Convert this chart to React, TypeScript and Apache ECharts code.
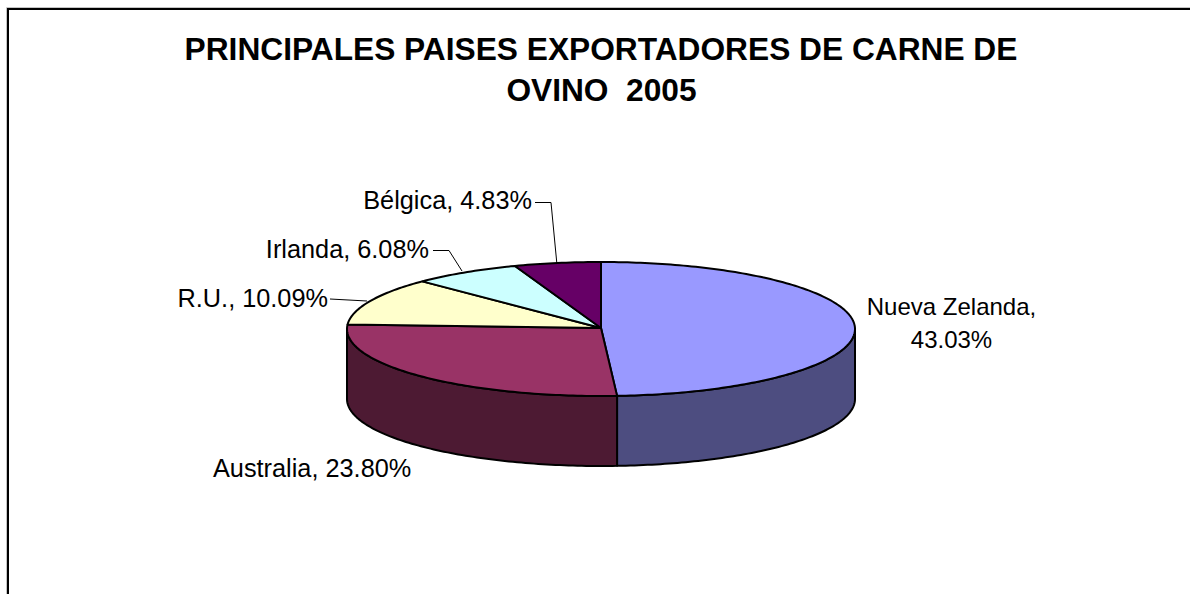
import React, { useEffect, useRef } from "react";
import * as echarts from "echarts";

const categories = ["Nueva Zelanda", "Australia", "R.U.", "Irlanda", "Bélgica"];
const shares = [43.03, 23.8, 10.09, 6.08, 4.83];
const topColors = ["#9999FF", "#993366", "#FFFFCC", "#CCFFFF", "#660066"];
const sideColors = ["#4D4D80", "#4D1A33", "#80806A", "#6A8080", "#330033"];
const titleLines = ["PRINCIPALES PAISES EXPORTADORES DE CARNE DE", "OVINO  2005"];

const CX = 601;
const CY = 329;
const RX = 254;
const RY = 67;
const DEPTH = 70;
const total = shares.reduce((a, b) => a + b, 0);

const pt = (deg: number, dy = 0): number[] => {
  const r = (deg * Math.PI) / 180;
  return [CX + RX * Math.sin(r), CY - RY * Math.cos(r) + dy];
};
const arc = (a: number, b: number, dy = 0): number[][] => {
  const out: number[][] = [];
  const n = Math.max(2, Math.ceil(Math.abs(b - a)));
  for (let i = 0; i <= n; i++) out.push(pt(a + ((b - a) * i) / n, dy));
  return out;
};

const renderSlice = (params: any, api: any) => {
  const idx = params.dataIndex;
  let before = 0;
  for (let i = 0; i < idx; i++) before += shares[i];
  const a = (before / total) * 360;
  const b = a + (api.value(0) / total) * 360;
  const children: any[] = [];
  const sa = Math.max(a, 90);
  const sb = Math.min(b, 270);
  if (sb > sa) {
    children.push({
      type: "polygon",
      shape: { points: [...arc(sa, sb), ...arc(sb, sa, DEPTH)] },
      style: { fill: sideColors[idx], stroke: "#000", lineWidth: 2, lineJoin: "round" },
    });
  }
  children.push({
    type: "polygon",
    shape: { points: [[CX, CY - 1], ...arc(a, b)] },
    style: { fill: topColors[idx], stroke: "#000", lineWidth: 2, lineJoin: "round" },
  });
  return { type: "group", children };
};

const labelFont = { fontFamily: "Liberation Sans, Arial, sans-serif", fontSize: 25.3, fill: "#000" };
const nzFont = { ...labelFont, fontSize: 24 };
const titleFont = { fontFamily: "Liberation Sans, Arial, sans-serif", fontSize: 31.7, fontWeight: "bold", fill: "#000" };
const labelText = (i: number) => `${categories[i]}, ${shares[i].toFixed(2)}%`;

export default function App() {
  const ref = useRef<HTMLDivElement>(null);
  useEffect(() => {
    const chart = echarts.init(ref.current!, null, { renderer: "svg" });
    chart.setOption({
      animation: false,
      backgroundColor: "#fff",
      series: [
        {
          type: "custom",
          coordinateSystem: "none",
          silent: true,
          renderItem: renderSlice,
          data: shares.map((v) => [v]),
        },
      ],
      graphic: [
        { type: "polyline", shape: { points: [[6.5, 594], [6.5, 7.5], [1190, 7.5]] }, style: { fill: "none", stroke: "#c4c4c4", lineWidth: 1 } },
        { type: "polyline", shape: { points: [[8, 594], [8, 9], [1190, 9]] }, style: { fill: "none", stroke: "#000", lineWidth: 2 } },
        { type: "text", x: 601, y: 49, style: { text: titleLines[0], textAlign: "center", textVerticalAlign: "middle", ...titleFont } },
        { type: "text", x: 601.5, y: 90, style: { text: titleLines[1], textAlign: "center", textVerticalAlign: "middle", ...titleFont } },
        { type: "text", x: 951.5, y: 306, style: { text: `${categories[0]},`, textAlign: "center", textVerticalAlign: "middle", ...nzFont } },
        { type: "text", x: 951.5, y: 339, style: { text: `${shares[0].toFixed(2)}%`, textAlign: "center", textVerticalAlign: "middle", ...nzFont } },
        { type: "text", x: 213, y: 468, style: { text: labelText(1), textAlign: "left", textVerticalAlign: "middle", ...labelFont } },
        { type: "text", x: 328, y: 298, style: { text: labelText(2), textAlign: "right", textVerticalAlign: "middle", ...labelFont } },
        { type: "text", x: 429, y: 249, style: { text: labelText(3), textAlign: "right", textVerticalAlign: "middle", ...labelFont } },
        { type: "text", x: 532, y: 200, style: { text: labelText(4), textAlign: "right", textVerticalAlign: "middle", ...labelFont } },
        { type: "polyline", shape: { points: [[330, 299], [367, 301]] }, style: { fill: "none", stroke: "#000", lineWidth: 1 } },
        { type: "polyline", shape: { points: [[433, 250.5], [449, 250.5], [462, 271]] }, style: { fill: "none", stroke: "#000", lineWidth: 1 } },
        { type: "polyline", shape: { points: [[535, 202.5], [551, 202.5], [557, 265]] }, style: { fill: "none", stroke: "#000", lineWidth: 1 } },
      ],
    });
    return () => chart.dispose();
  }, []);
  return <div ref={ref} style={{ position: "fixed", left: 0, top: 0, width: 1190, height: 594 }} />;
}
